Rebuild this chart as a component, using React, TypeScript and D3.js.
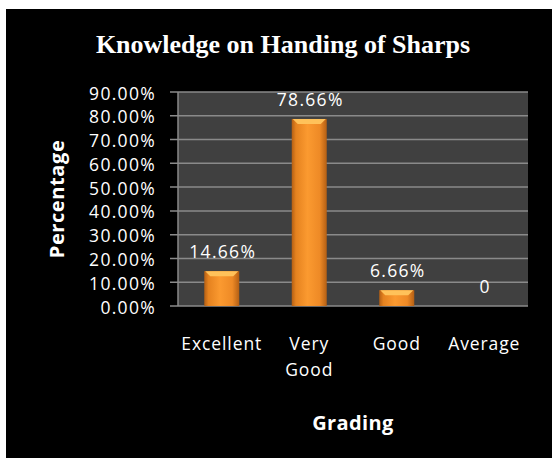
import React, { useEffect, useRef } from 'react';
import * as d3 from 'd3';

const categories = ['Excellent', 'Very Good', 'Good', 'Average'];
const categoryLines = [['Excellent'], ['Very', 'Good'], ['Good'], ['Average']];
const values = [0.1466, 0.7866, 0.0666, 0];
const valueLabels = ['14.66%', '78.66%', '6.66%', '0'];
const yTicks = [0, 0.1, 0.2, 0.3, 0.4, 0.5, 0.6, 0.7, 0.8, 0.9];

export default function App() {
  const ref = useRef<SVGSVGElement>(null);

  useEffect(() => {
    const width = 552;
    const height = 458;
    const margin = { top: 92, bottom: 152, left: 178, right: 24 };
    const font = '"Open Sans", Calibri, sans-serif';

    const svg = d3.select(ref.current);
    svg.selectAll('*').remove();

    const defs = svg.append('defs');
    const grad = defs
      .append('linearGradient')
      .attr('id', 'barGrad')
      .attr('x1', 0)
      .attr('x2', 1)
      .attr('y1', 0)
      .attr('y2', 0);
    grad.append('stop').attr('offset', '0%').attr('stop-color', '#b45f14');
    grad.append('stop').attr('offset', '12%').attr('stop-color', '#e5821f');
    grad.append('stop').attr('offset', '45%').attr('stop-color', '#fb9a30');
    grad.append('stop').attr('offset', '80%').attr('stop-color', '#ee8a26');
    grad.append('stop').attr('offset', '100%').attr('stop-color', '#b45f14');

    // outer background
    svg
      .append('rect')
      .attr('x', 6)
      .attr('y', 9)
      .attr('width', width - 6)
      .attr('height', height - 9)
      .attr('fill', '#000');

    const xScale = d3
      .scaleBand()
      .domain(categories)
      .range([margin.left, width - margin.right])
      .paddingInner(0.6)
      .paddingOuter(0.3);

    const yScale = d3
      .scaleLinear()
      .domain([0, 0.9])
      .range([height - margin.bottom, margin.top]);

    // plot area
    svg
      .append('rect')
      .attr('x', margin.left)
      .attr('y', yScale(0.9))
      .attr('width', width - margin.right - margin.left)
      .attr('height', yScale(0) - yScale(0.9))
      .attr('fill', '#404040');

    // gridlines + tick marks
    svg
      .append('g')
      .selectAll('line')
      .data(yTicks)
      .enter()
      .append('line')
      .attr('x1', margin.left - 8)
      .attr('x2', width - margin.right)
      .attr('y1', (d) => yScale(d))
      .attr('y2', (d) => yScale(d))
      .attr('stroke', '#8a8a8a')
      .attr('stroke-width', 1.5);

    svg
      .append('line')
      .attr('x1', margin.left)
      .attr('x2', margin.left)
      .attr('y1', yScale(0.9))
      .attr('y2', yScale(0))
      .attr('stroke', '#8a8a8a')
      .attr('stroke-width', 1.5);

    const fmt = d3.format('.2%');
    svg
      .append('g')
      .selectAll('text')
      .data(yTicks)
      .enter()
      .append('text')
      .attr('x', 156)
      .attr('y', (d) => yScale(d) + 7.5)
      .attr('text-anchor', 'end')
      .attr('fill', '#fff')
      .attr('font-family', font)
      .attr('font-size', 17.5)
      .attr('letter-spacing', 1.3)
      .text((d) => fmt(d));

    const bars = svg
      .append('g')
      .selectAll('g')
      .data(values)
      .enter()
      .append('g');

    const bw = xScale.bandwidth();

    bars
      .filter((d) => d > 0)
      .append('rect')
      .attr('x', (d, i) => xScale(categories[i]) as number)
      .attr('y', (d) => yScale(d))
      .attr('width', bw)
      .attr('height', (d) => yScale(0) - yScale(d))
      .attr('fill', 'url(#barGrad)');

    // top bevel
    bars
      .filter((d) => d > 0)
      .append('polygon')
      .attr('points', (d, i) => {
        const x0 = xScale(categories[i]) as number;
        const y0 = yScale(d);
        return [
          [x0 + 1, y0],
          [x0 + bw - 1, y0],
          [x0 + bw - 6, y0 + 5],
          [x0 + 6, y0 + 5],
        ]
          .map((p) => p.join(','))
          .join(' ');
      })
      .attr('fill', '#ffc25a');

    svg
      .append('g')
      .selectAll('text')
      .data(values)
      .enter()
      .append('text')
      .attr('x', (d, i) => (xScale(categories[i]) as number) + bw / 2 + 1)
      .attr('y', (d) => yScale(d) - 13)
      .attr('text-anchor', 'middle')
      .attr('fill', '#fff')
      .attr('font-family', font)
      .attr('font-size', 17.5)
      .attr('letter-spacing', 1.3)
      .text((d, i) => valueLabels[i]);

    // category labels
    const catG = svg
      .append('g')
      .selectAll('text')
      .data(categoryLines)
      .enter()
      .append('text')
      .attr('text-anchor', 'middle')
      .attr('fill', '#fff')
      .attr('font-family', font)
      .attr('font-size', 17.5)
      .attr('letter-spacing', 0.9);

    catG
      .selectAll('tspan')
      .data((d, i) => d.map((line) => ({ line, i })))
      .enter()
      .append('tspan')
      .attr('x', (d) => (xScale(categories[d.i]) as number) + bw / 2)
      .attr('y', (d, j) => 350 + j * 26)
      .text((d) => d.line);

    svg
      .append('text')
      .attr('x', (margin.left + width - margin.right) / 2)
      .attr('y', 430)
      .attr('text-anchor', 'middle')
      .attr('fill', '#fff')
      .attr('font-family', font)
      .attr('font-weight', 'bold')
      .attr('font-size', 20)
      .attr('letter-spacing', 0.4)
      .text('Grading');

    svg
      .append('text')
      .attr('transform', `translate(64, ${(yScale(0) + yScale(0.9)) / 2}) rotate(-90)`)
      .attr('text-anchor', 'middle')
      .attr('fill', '#fff')
      .attr('font-family', font)
      .attr('font-weight', 'bold')
      .attr('font-size', 20)
      .attr('letter-spacing', 0.6)
      .text('Percentage');

    svg
      .append('text')
      .attr('x', 283)
      .attr('y', 53)
      .attr('text-anchor', 'middle')
      .attr('fill', '#fff')
      .attr('font-family', '"Liberation Serif", "Times New Roman", serif')
      .attr('font-weight', 'bold')
      .attr('font-size', 26)
      .text('Knowledge on Handing of Sharps');
  }, []);

  return (
    <svg
      ref={ref}
      width={552}
      height={458}
      style={{ position: 'absolute', left: 0, top: 0 }}
    />
  );
}
